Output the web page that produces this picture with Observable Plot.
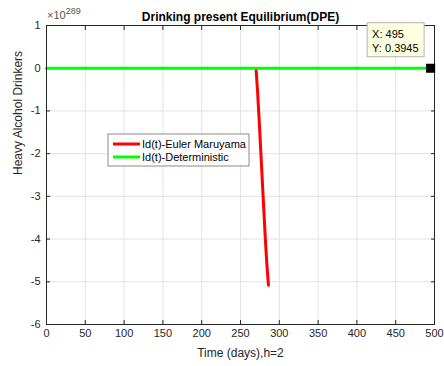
<!DOCTYPE html>
<html><head><meta charset="utf-8">
<script src="https://cdn.jsdelivr.net/npm/d3@7"></script>
<script src="https://cdn.jsdelivr.net/npm/@observablehq/plot@0.6"></script>
<style>body{margin:0;background:#fff;}</style>
</head><body><div id="chart"></div>
<script>
// ---- data (y values in units of 10^289) ----
const xTicks = [0, 50, 100, 150, 200, 250, 300, 350, 400, 450, 500];
const yTicks = [-6, -5, -4, -3, -2, -1, 0, 1];
const emTime  = [270, 272, 274, 276, 278, 280, 282, 284, 286];
const emValue = [0, -0.55, -1.2, -1.9, -2.6, -3.3, -4.0, -4.6, -5.08];
const detTime  = [0, 100, 200, 300, 400, 495];
const detValue = [0, 0, 0, 0, 0, 0];
const tipX = 495, tipY = 0;
const tipLines = ["X: 495", "Y: 0.3945"];
const seriesNames = ["Id(t)-Euler Maruyama", "Id(t)-Deterministic"];
const seriesColors = ["#ff0000", "#00ff00"];
const title = "Drinking present Equilibrium(DPE)";
const xLabel = "Time (days),h=2";
const yLabel = "Heavy Alcohol Drinkers";
const exponent = "289";

const font = "'Liberation Sans', Arial, Helvetica, sans-serif";
const ink = "#262626";
const em = emTime.map((t, i) => ({t, v: emValue[i]}));
const det = detTime.map((t, i) => ({t, v: detValue[i]}));
const fmt = d => String(d);

const plot = Plot.plot({
  width: 444, height: 366,
  marginLeft: 46, marginRight: 10, marginTop: 25, marginBottom: 42,
  style: {fontFamily: font, fontSize: "11px", color: ink, background: "#fff", overflow: "visible"},
  x: {domain: [0, 500]},
  y: {domain: [-6, 1]},
  marks: [
    Plot.gridX(xTicks, {stroke: "#e3e3e3", strokeOpacity: 1}),
    Plot.gridY(yTicks, {stroke: "#e3e3e3", strokeOpacity: 1}),
    Plot.axisX(xTicks, {anchor: "bottom", tickSize: 0, tickPadding: 5, label: null, fill: ink, tickFormat: fmt}),
    Plot.axisY(yTicks, {anchor: "left", tickSize: 0, tickPadding: 6, label: null, fill: ink, tickFormat: fmt}),
    Plot.axisX(xTicks, {anchor: "bottom", tickSize: 4, dy: -4, text: null, label: null, stroke: ink}),
    Plot.axisX(xTicks, {anchor: "top", tickSize: 4, dy: 4, text: null, label: null, stroke: ink}),
    Plot.axisY(yTicks, {anchor: "left", tickSize: 4, dx: 4, text: null, label: null, stroke: ink}),
    Plot.axisY(yTicks, {anchor: "right", tickSize: 4, dx: -4, text: null, label: null, stroke: ink}),
    Plot.line(em, {x: "t", y: "v", stroke: seriesColors[0], strokeWidth: 3}),
    Plot.line(det, {x: "t", y: "v", stroke: seriesColors[1], strokeWidth: 3}),
    Plot.frame({stroke: ink}),
    Plot.dot([{x: tipX, y: tipY}], {x: "x", y: "y", symbol: "square", fill: "black", stroke: "black", r: 4.3}),
    Plot.text([title], {frameAnchor: "top", dy: -13, fontWeight: "bold", fontSize: 12, fill: "#000"}),
    Plot.text([xLabel], {frameAnchor: "bottom", dy: 32, fontSize: 12, fill: ink}),
    Plot.text([yLabel], {frameAnchor: "left", dx: -28, rotate: -90, fontSize: 12, fill: ink})
  ]
});
document.getElementById("chart").appendChild(plot);

const svg = d3.select(plot);
const sx = plot.scale("x"), sy = plot.scale("y");
const px = sx.apply(tipX), py = sy.apply(tipY);

// exponent multiplier
const mult = svg.append("text")
  .attr("x", sx.apply(0) + 1).attr("y", sy.apply(1) - 6)
  .attr("text-anchor", "start")
  .attr("font-family", font).attr("font-size", 11).attr("fill", "#555");
mult.append("tspan").text("\u00d710");
mult.append("tspan").attr("dy", -5).attr("font-size", 9).text(exponent);

// data tip
const tip = svg.append("g").attr("text-anchor", "start");
tip.append("rect")
  .attr("x", px - 63).attr("y", py - 45).attr("width", 57).attr("height", 34)
  .attr("fill", "#ffffe1").attr("stroke", "#b4b4b4").attr("stroke-width", 1);
tipLines.forEach((s, i) => {
  tip.append("text").attr("x", px - 58).attr("y", py - 30 + i * 14)
    .attr("font-family", font).attr("font-size", 11).attr("fill", "#000").text(s);
});

// legend
const lg = svg.append("g").attr("transform", "translate(108,134)").attr("text-anchor", "start");
lg.append("rect").attr("width", 141).attr("height", 32)
  .attr("fill", "#fff").attr("stroke", "#8a8a8a").attr("stroke-width", 1);
seriesNames.forEach((name, i) => {
  const y = 10 + i * 13;
  lg.append("line").attr("x1", 5).attr("x2", 32).attr("y1", y).attr("y2", y)
    .attr("stroke", seriesColors[i]).attr("stroke-width", 3);
  lg.append("text").attr("x", 34).attr("y", y + 4)
    .attr("font-family", font).attr("font-size", 11).attr("fill", "#000").text(name);
});
</script>
</body></html>
